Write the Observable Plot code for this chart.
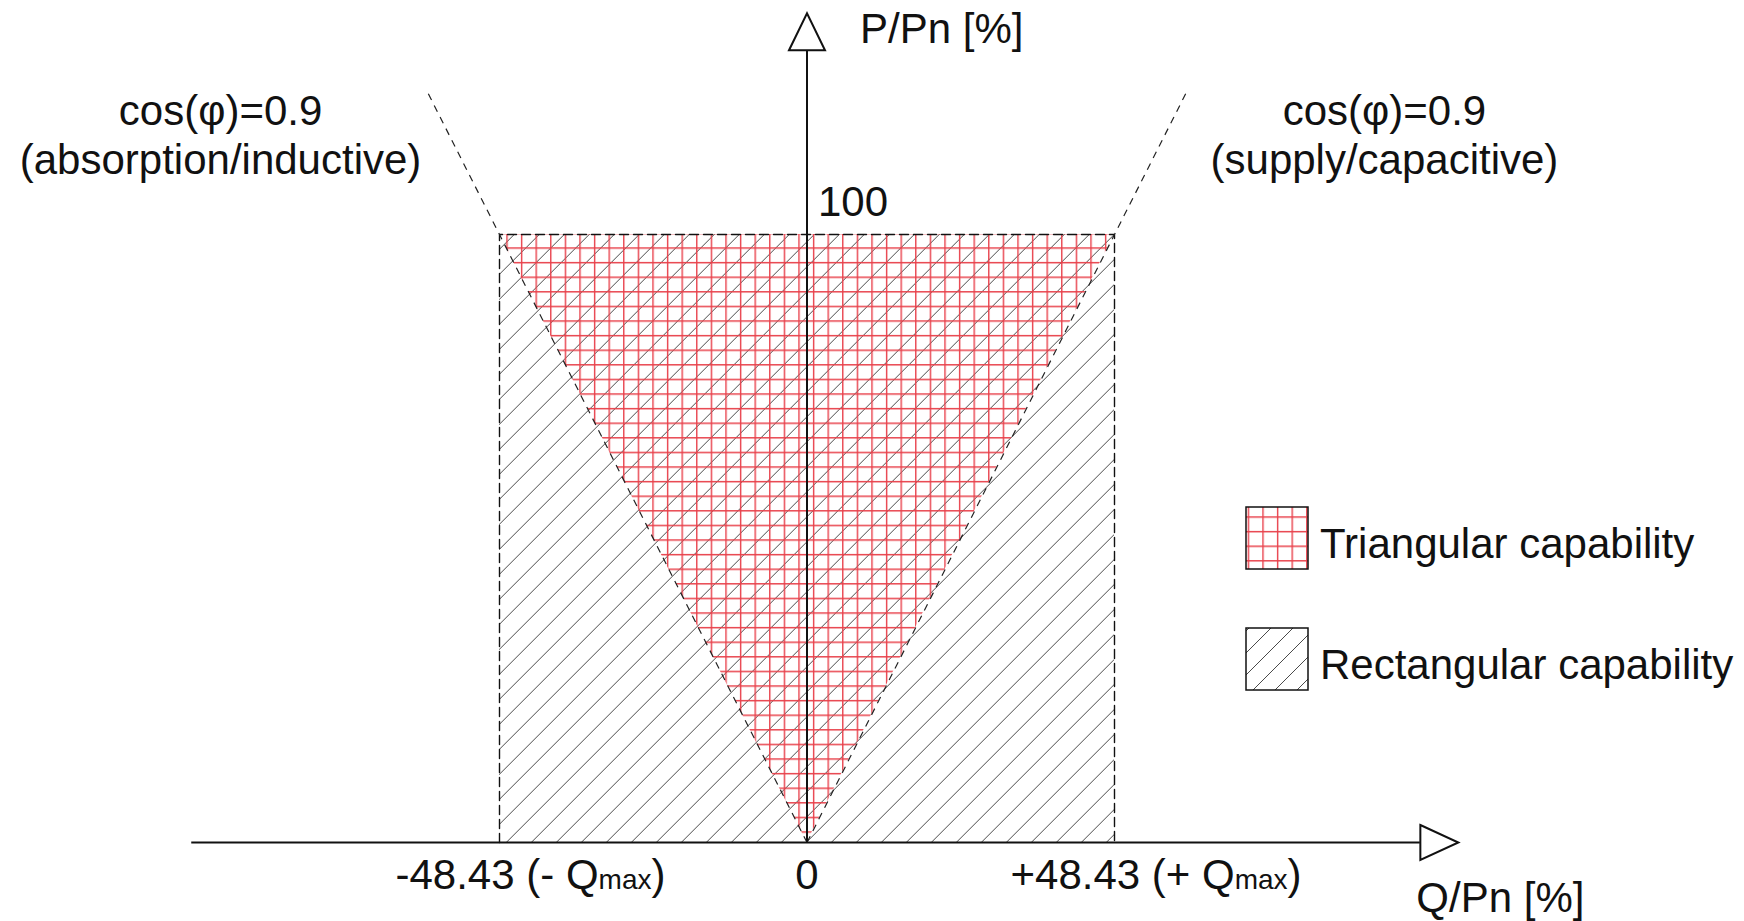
<!DOCTYPE html>
<html><head><meta charset="utf-8">
<script src="https://cdn.jsdelivr.net/npm/d3@7"></script>
<script src="https://cdn.jsdelivr.net/npm/@observablehq/plot@0.6"></script>
<style>
html,body{margin:0;padding:0;background:#fff;}
#chart{position:relative;width:1744px;height:921px;overflow:hidden;background:#fff;}
#legend{position:absolute;left:1240px;top:501px;}
</style></head><body><div id="chart"></div>
<script>
// ---- data ----
const qMax = 48.43;               // ±Qmax [% of Pn]
const pMax = 100;                 // P/Pn [%]
const qAxisExtent = [-96.9, 96.6];
const pAxisExtent = [0, 130.3];
const cosLineTopP = 123.4;        // extent of cos(φ)=0.9 guide lines
const xTickValues = [-48.43, 48.43];
const xTickLabels = ["-48.43 (- Qmax)", "+48.43 (+ Qmax)"];
const zeroTickValues = [0];
const zeroTickLabels = ["0"];
const yTickValues = [100];
const yTickLabels = ["100"];
const cosSides = [-1, 1];
const cosLabels = ["cos(φ)=0.9\n(absorption/inductive)", "cos(φ)=0.9\n(supply/capacitive)"];
const axisTitles = ["Q/Pn [%]", "P/Pn [%]"];
const legendLabels = ["Triangular capability", "Rectangular capability"];

// ---- derived tables ----
const tanPhi = qMax / pMax;
const rectRegion = [{x1: -qMax, x2: qMax, y1: 0, y2: pMax}];
const triRegion = [{p: 0, qa: 0, qb: 0}, {p: pMax, qa: -qMax, qb: qMax}];
const rectOutline = [{q: -qMax, p: 0}, {q: -qMax, p: pMax}, {q: qMax, p: pMax}, {q: qMax, p: 0}];
const cosLines = cosSides.map((s, i) => ({s, q: s * tanPhi * cosLineTopP, p: cosLineTopP, label: cosLabels[i]}));
const xTicks = xTickValues.map((v, i) => ({v, label: xTickLabels[i]}));

const arrowUp = {draw(ctx) { ctx.moveTo(-18, 0); ctx.lineTo(0, -37); ctx.lineTo(18, 0); ctx.closePath(); }};
const arrowRight = {draw(ctx) { ctx.moveTo(0, -17.5); ctx.lineTo(38, 0); ctx.lineTo(0, 17.5); ctx.closePath(); }};

const font = "Liberation Sans, Arial, Helvetica, sans-serif";
const ink = "#111";

const svg = Plot.plot({
  width: 1744, height: 921,
  margin: 0,
  style: {fontFamily: font, background: "#fff", color: ink, overflow: "visible"},
  x: {domain: [-qMax, qMax], range: [499, 1114], axis: null},
  y: {domain: [0, pMax], range: [842, 234], axis: null},
  marks: [
    Plot.rect(rectRegion, {x1: "x1", x2: "x2", y1: "y1", y2: "y2", fill: "url(#hatch)"}),
    Plot.areaX(triRegion, {y: "p", x1: "qa", x2: "qb", fill: "url(#redgrid)"}),
    Plot.line(rectOutline, {x: "q", y: "p", stroke: ink, strokeWidth: 1.4, strokeDasharray: "9,5"}),
    Plot.link(cosLines, {x1: 0, y1: 0, x2: "q", y2: "p", stroke: "#222", strokeWidth: 1.2, strokeDasharray: "7,6"}),
    Plot.ruleY([0], {x1: qAxisExtent[0], x2: qAxisExtent[1], stroke: ink, strokeWidth: 2}),
    Plot.ruleX([0], {y1: pAxisExtent[0], y2: pAxisExtent[1], stroke: ink, strokeWidth: 2}),
    Plot.dot([{q: qAxisExtent[1], p: 0}], {x: "q", y: "p", symbol: arrowRight, fill: "#fff", stroke: ink, strokeWidth: 2}),
    Plot.dot([{q: 0, p: pAxisExtent[1]}], {x: "q", y: "p", symbol: arrowUp, fill: "#fff", stroke: ink, strokeWidth: 2}),
    Plot.text(xTicks, {x: "v", y: 0, text: "label", textAnchor: "start", lineAnchor: "bottom", dx: -104, dy: 46, fontSize: 42, fill: ink}),
    Plot.text(zeroTickValues, {x: d => d, y: 0, text: (d, i) => zeroTickLabels[i], textAnchor: "middle", lineAnchor: "bottom", dy: 46, fontSize: 42, fill: ink}),
    Plot.text(yTickValues, {x: 0, y: d => d, text: (d, i) => yTickLabels[i], textAnchor: "start", lineAnchor: "bottom", dx: 11, dy: -19, fontSize: 42, fill: ink}),
    Plot.text([cosLines[0]], {x: "q", y: "p", text: "label", textAnchor: "middle", lineAnchor: "bottom", lineHeight: 1.18, dx: -207, dy: 82, fontSize: 42, fill: ink}),
    Plot.text([cosLines[1]], {x: "q", y: "p", text: "label", textAnchor: "middle", lineAnchor: "bottom", lineHeight: 1.18, dx: 198, dy: 82, fontSize: 42, fill: ink}),
    Plot.text([{q: qAxisExtent[1], p: 0, t: axisTitles[0]}], {x: "q", y: "p", text: "t", textAnchor: "start", lineAnchor: "bottom", dx: -4, dy: 69, fontSize: 42, fill: ink}),
    Plot.text([{q: 0, p: pAxisExtent[1], t: axisTitles[1]}], {x: "q", y: "p", text: "t", textAnchor: "start", lineAnchor: "bottom", dx: 53, dy: -7, fontSize: 42, fill: ink})
  ]
});

// patterns
const defs = d3.select(svg).insert("defs", ":first-child");
defs.html(`
  <pattern id="hatch" patternUnits="userSpaceOnUse" width="25" height="25" x="23.7" y="0">
    <path d="M-6.25,6.25 L6.25,-6.25 M0,25 L25,0 M18.75,31.25 L31.25,18.75" stroke="#4a4a4a" stroke-width="1" fill="none"/>
  </pattern>
  <pattern id="redgrid" patternUnits="userSpaceOnUse" width="14.6" height="14.6" x="9.9" y="13.7">
    <path d="M0,0.7 H14.6 M0.7,0 V14.6" stroke="#e8404a" stroke-width="1.4" fill="none"/>
  </pattern>
  <pattern id="redgridL" patternUnits="userSpaceOnUse" width="14.6" height="14.6" x="7.7" y="0.7">
    <path d="M0,0.7 H14.6 M0.7,0 V14.6" stroke="#e8404a" stroke-width="1.4" fill="none"/>
  </pattern>
  <pattern id="hatchL" patternUnits="userSpaceOnUse" width="22" height="22" x="4" y="0">
    <path d="M-5.5,5.5 L5.5,-5.5 M0,22 L22,0 M16.5,27.5 L27.5,16.5" stroke="#4a4a4a" stroke-width="1" fill="none"/>
  </pattern>`);

// small "max" in Qmax
d3.select(svg).selectAll("text").each(function() {
  const t = this.textContent;
  const i = t.indexOf("Qmax");
  if (i >= 0 && this.childElementCount === 0) {
    const s = d3.select(this);
    s.text(null);
    s.append("tspan").text(t.slice(0, i + 1));
    s.append("tspan").attr("font-size", 28).text("max");
    s.append("tspan").text(t.slice(i + 4));
  }
});

const chart = document.getElementById("chart");
chart.appendChild(svg);

// legend
const lg = d3.create("svg").attr("id", "legend").attr("width", 500).attr("height", 200)
  .style("font-family", font);
const ox = 6, oy = 6;
const fills = ["url(#redgridL)", "url(#hatchL)"];
legendLabels.forEach((lab, i) => {
  const y0 = oy + i * 121;
  lg.append("rect").attr("x", ox).attr("y", y0).attr("width", 62).attr("height", 62)
    .attr("fill", fills[i]).attr("stroke", ink).attr("stroke-width", 1.5);
  lg.append("text").attr("x", ox + 74).attr("y", y0 + 51).attr("font-size", 42).attr("fill", ink).text(lab);
});
chart.appendChild(lg.node());
</script></body></html>
